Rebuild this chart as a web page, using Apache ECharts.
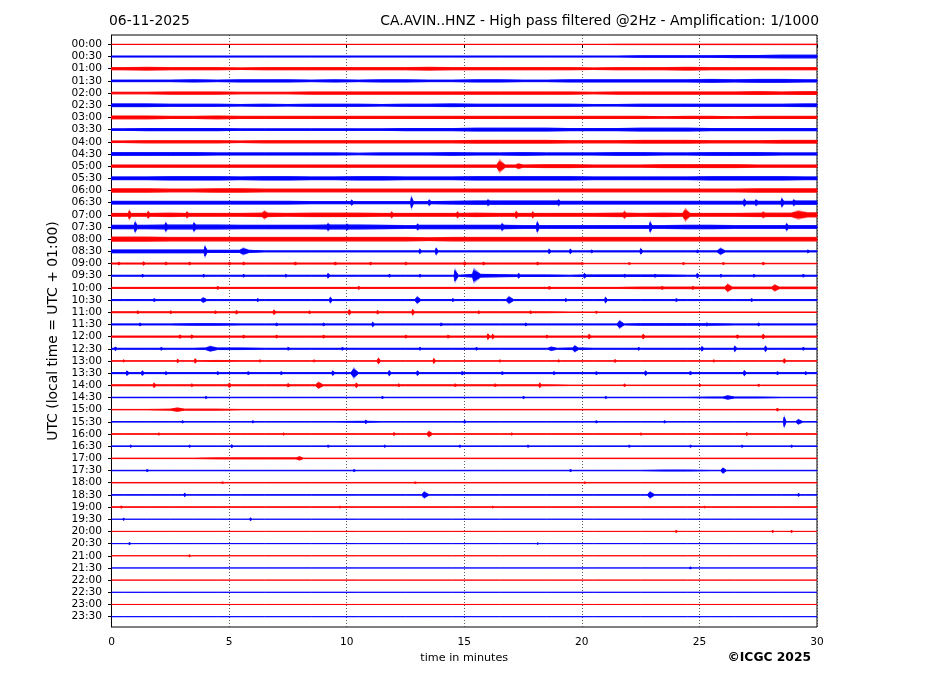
<!DOCTYPE html>
<html><head><meta charset="utf-8">
<script src="https://cdn.jsdelivr.net/npm/echarts@6/dist/echarts.min.js"></script>
<style>html,body{margin:0;padding:0;background:#fff}#c{width:927px;height:696px}</style>
</head><body><div id="c"></div>
<script>
// Row (half-hour) labels of the helicorder
const ROW_LABELS = ["00:00","00:30","01:00","01:30","02:00","02:30","03:00","03:30","04:00","04:30",
  "05:00","05:30","06:00","06:30","07:00","07:30","08:00","08:30","09:00","09:30",
  "10:00","10:30","11:00","11:30","12:00","12:30","13:00","13:30","14:00","14:30",
  "15:00","15:30","16:00","16:30","17:00","17:30","18:00","18:30","19:00","19:30",
  "20:00","20:30","21:00","21:30","22:00","22:30","23:00","23:30"];
const X_TICKS = [0, 5, 10, 15, 20, 25, 30];

// Background envelope (half amplitude) per row, one digit per minute (0..29)
const BASE_AMP = [
  "000000000000000000000111111111",
  "222222222222222222222233334455",
  "454443444444454444443444544444",
  "333434443434433443344444454554",
  "334443334444444444443444444545",
  "554443434443445444443344444445",
  "554454444444444444444443443444",
  "344443333333444555544455544444",
  "344443444444444555544455544455",
  "555544444434445445444554455544",
  "444444444444444444554445555444",
  "556665665566555666665555566665",
  "665566555555555555555555555666",
  "555555554444445666655555555556",
  "556555656665555655555656555667",
  "667776666776566665555555665555",
  "776666666666656666666666666666",
  "555544222222222222222222222222",
  "222222222222222222221111111111",
  "222222222222222543323333222222",
  "222222222222222222222233333333",
  "222222222222222222222222222222",
  "222222222222222222211111111111",
  "222332222222222222222233332222",
  "222222222222222222222222222222",
  "222233222222222222232222222222",
  "111121111111111111111111111111",
  "222222222222222222222222222222",
  "222222222222222222211111111111",
  "111111111111111111111111122211",
  "112221111111111111111111111111",
  "111111111121111111111111111111",
  "111111111111111111111111111111",
  "111111111111111111111111111111",
  "111122221111111111111111111111",
  "111111111111111111111112211111",
  "111111111111111111111111111111",
  "111111111111111111111111111111",
  "111111111111111111111111111111",
  "000000000000000000000000000000",
  "000000000000000000000000000000",
  "000000000000000000000000000000",
  "000000000000000000000000000000",
  "000000000000000000000000000000",
  "000000000000000000000000000000",
  "000000000000000000000000000000",
  "000000000000000000000000000000",
  "000000000000000000000000000000"
];

// Transient events: [row, minute, peak half amplitude, rise (min), decay (min)]
const SPIKES = [
  [10,16.5,18,0.12,0.25],[10,17.3,8,0.12,0.2],
  [13,10.2,9],[13,12.75,20],[13,13.5,10],[13,16.0,10],[13,19.0,10],[13,26.9,12],[13,27.4,10],[13,28.5,15],[13,29.0,10],
  [14,0.75,15],[14,1.55,12],[14,3.2,10],[14,6.5,12,0.1,0.15],[14,11.9,10],[14,14.7,10],[14,17.2,12],[14,17.9,10],[14,21.8,12],[14,24.4,18,0.12,0.2],[14,27.7,10],[14,29.2,12,0.3,0.4],
  [15,1.0,18],[15,2.3,15],[15,3.5,15],[15,9.2,12],[15,10.0,10],[15,13.0,10],[15,16.6,12],[15,18.1,18],[15,22.9,18],[15,28.7,12],
  [17,3.97,18,0.03,0.1],[17,5.6,10,0.15,0.25],[17,13.1,8],[17,13.8,12],[17,18.6,8],[17,19.5,8],[17,20.4,5],[17,22.5,10],[17,24.9,5],[17,25.9,10,0.15,0.2],[17,29.6,5],
  [18,0.3,5],[18,1.35,6],[18,2.3,5],[18,3.3,5],[18,5.0,5],[18,5.6,5],[18,7.8,5],[18,9.5,5],[18,11.0,5],[18,12.5,5],[18,15.0,6],[18,15.8,5],[18,18.1,5],[18,20.0,4],[18,22.0,4],[18,24.3,4],[18,26.0,4],[18,27.7,5],
  [19,1.3,5],[19,3.9,5],[19,5.6,5],[19,7.4,5],[19,9.2,8],[19,11.8,5],[19,13.1,5],[19,14.6,20,0.03,0.15],[19,15.4,20,0.05,0.3],[19,17.3,8],[19,20.1,8],[19,21.8,5],[19,23.1,5],[19,24.9,8],[19,25.9,5],[19,27.3,5],[19,29.4,5],
  [20,4.5,5],[20,10.5,5],[20,18.6,5],[20,23.4,5],[20,24.7,5],[20,26.2,12,0.12,0.2],[20,28.2,10,0.12,0.2],
  [21,1.8,5],[21,3.9,8,0.1,0.15],[21,6.2,5],[21,9.3,10],[21,13.0,11,0.1,0.15],[21,14.5,5],[21,16.9,11,0.12,0.2],[21,19.3,5],[21,21.0,10],[21,24.0,5],[21,27.2,5],
  [22,1.1,5],[22,2.5,5],[22,4.4,5],[22,5.3,6],[22,6.9,8],[22,8.4,5],[22,10.1,9],[22,11.3,6],[22,12.8,10],[22,15.6,5],[22,17.8,5],[22,20.6,4],
  [23,1.2,5],[23,7.0,5],[23,9.0,5],[23,11.1,8],[23,14.0,5],[23,17.6,5],[23,21.6,12,0.1,0.2],[23,25.3,5],[23,27.5,5],
  [24,2.9,6],[24,3.4,6],[24,5.6,5],[24,7.0,5],[24,9.0,5],[24,12.5,5],[24,14.3,5],[24,16.0,10],[24,16.2,8],[24,18.5,5],[24,20.3,8],[24,22.6,8],[24,26.6,6],[24,27.7,8],
  [25,0.15,6],[25,2.1,5],[25,4.2,8,0.2,0.3],[25,7.5,5],[25,9.8,5],[25,13.1,5],[25,15.5,5],[25,18.7,6,0.15,0.25],[25,19.7,10,0.1,0.15],[25,22.4,5],[25,25.1,8],[25,26.5,10],[25,27.8,10],[25,29.4,5],
  [26,0.5,4],[26,2.8,6],[26,3.55,8],[26,6.3,4],[26,8.6,4],[26,11.35,10,0.06,0.1],[26,13.7,9],[26,16.5,4],[26,19.0,4],[26,21.4,5],[26,25.6,4],[26,28.6,8],
  [27,0.65,8],[27,1.3,8],[27,2.3,5],[27,4.5,5],[27,5.8,5],[27,7.2,5],[27,9.4,8],[27,10.3,15,0.12,0.2],[27,11.8,9],[27,13.0,8],[27,14.9,6],[27,16.6,5],[27,18.8,5],[27,20.6,5],[27,22.7,8],[27,24.6,6],[27,26.9,9],[27,28.3,5],[27,29.5,5],
  [28,1.8,8],[28,3.4,5],[28,5.0,8],[28,7.5,6],[28,8.8,10,0.12,0.2],[28,10.4,8],[28,12.2,5],[28,14.6,5],[28,16.3,5],[28,18.2,8],[28,21.8,5],[28,25.0,4],[28,27.5,4],
  [29,4.0,4],[29,11.5,4],[29,17.5,4],[29,21.0,4],[29,26.2,6,0.2,0.3],
  [30,2.8,6,0.3,0.3],[30,28.3,5],
  [31,3.0,4],[31,6.0,4],[31,10.8,6],[31,15.0,5],[31,20.6,4],[31,23.5,4],[31,28.6,18],[31,29.2,8,0.1,0.2],
  [32,2.0,4],[32,7.3,4],[32,12.0,5],[32,13.5,9,0.1,0.15],[32,17.0,4],[32,22.5,4],[32,27.0,5],
  [33,0.8,4],[33,3.3,4],[33,5.1,5],[33,9.2,4],[33,11.6,4],[33,14.8,4],[33,17.7,4],[33,22.0,4],[33,24.6,4],[33,26.8,4],[33,28.9,4],
  [34,8.0,6,0.15,0.15],
  [35,1.5,4],[35,10.3,4],[35,19.5,4],[35,26.0,9,0.1,0.15],
  [36,4.7,3],[36,12.9,3],[36,20.1,3],
  [37,3.1,6],[37,13.3,10,0.12,0.2],[37,22.9,10,0.12,0.2],[37,29.2,5],
  [38,0.4,4],[38,9.7,3],[38,16.2,3],[38,25.2,3],
  [39,0.5,4],[39,5.9,5],
  [40,24.0,4],[40,28.1,4],[40,28.9,4],
  [41,0.75,4],[41,18.1,3],
  [42,3.3,4],
  [43,24.6,4]
];

const AMP_UNIT = 1 / 30;      // fraction of the row spacing per amplitude unit
const CORE_FRACTION = 0.65;   // solid core of the trace; the rest is drawn as a softer halo
const ROW_COLORS = ['#ff0000', '#0000ff'];
const FONT = 'DejaVu Sans';

function envelope(i) {
  const s = BASE_AMP[i];
  const bg = t => Number(s[Math.max(0, Math.min(29, Math.floor(t)))]);
  const sp = SPIKES.filter(p => p[0] === i);
  const rise = p => (p[3] !== undefined ? p[3] : 0.03);
  const dec = p => (p[4] !== undefined ? p[4] : 0.09);
  const inWin = t => sp.some(p => t > p[1] - rise(p) && t < p[1] + dec(p));
  const pts = [[0, bg(0)], [30, bg(29.9)]];
  for (let k = 0; k < 30; k++) { const t = k + 0.5; if (!inWin(t)) pts.push([t, bg(t)]); }
  sp.forEach(p => {
    const a = Math.max(0, p[1] - rise(p)), b = Math.min(30, p[1] + dec(p));
    pts.push([a, bg(a)], [p[1], p[2]], [b, bg(b)]);
  });
  pts.sort((u, v) => u[0] - v[0]);
  return pts;
}
const ENVELOPES = ROW_LABELS.map((_, i) => envelope(i));

function bandPoints(api, row, frac) {
  const env = ENVELOPES[row];
  const up = env.map(p => api.coord([p[0], row - p[1] * AMP_UNIT * frac]));
  const dn = env.slice().reverse().map(p => api.coord([p[0], row + p[1] * AMP_UNIT * frac]));
  return up.concat(dn);
}

const traceSeries = {
  type: 'custom', name: 'HNZ', coordinateSystem: 'cartesian2d', clip: true, silent: true, animation: false,
  data: ROW_LABELS.map((lab, i) => [0, i]),
  encode: { x: 0, y: 1 },
  renderItem: function (params, api) {
    const row = api.value(1);
    const color = ROW_COLORS[row % 2];
    return {
      type: 'group',
      children: [
        { type: 'polygon', shape: { points: bandPoints(api, row, 1) },
          style: { fill: color, opacity: 0.45 } },
        { type: 'polygon', shape: { points: bandPoints(api, row, CORE_FRACTION) },
          style: { fill: color, stroke: color, lineWidth: 0.9, lineJoin: 'round' } }
      ]
    };
  }
};

const chart = echarts.init(document.getElementById('c'), null, { renderer: 'canvas' });
chart.setOption({
  animation: false,
  backgroundColor: '#fff',
  textStyle: { fontFamily: FONT },
  title: [
    { text: '06-11-2025', left: 109, top: 13, padding: 0,
      textStyle: { fontSize: 13.9, fontWeight: 'normal', color: '#000', fontFamily: FONT, lineHeight: 16 } },
    { text: 'CA.AVIN..HNZ - High pass filtered @2Hz - Amplification: 1/1000', right: 108, top: 13, padding: 0,
      textStyle: { fontSize: 13.9, fontWeight: 'normal', color: '#000', fontFamily: FONT, lineHeight: 16 } },
    { text: '©ICGC 2025', right: 116, top: 651, padding: 0,
      textStyle: { fontSize: 12.3, fontWeight: 'bold', color: '#000', fontFamily: FONT, lineHeight: 14 } }
  ],
  grid: { left: 111.5, right: 110, top: 35, bottom: 69, show: true, borderColor: '#000', borderWidth: 1,
          backgroundColor: 'transparent', containLabel: false, outerBoundsMode: 'none' },
  xAxis: {
    type: 'value', min: X_TICKS[0], max: X_TICKS[X_TICKS.length - 1], interval: 5,
    axisLine: { show: true, lineStyle: { color: '#000', width: 1 } },
    axisTick: { show: true, length: 3.5, lineStyle: { color: '#000' } },
    axisLabel: { color: '#000', fontSize: 10.6, margin: 10, fontFamily: FONT },
    splitLine: { show: true, lineStyle: { color: '#333', type: [1, 2], width: 0.8 } },
    name: 'time in minutes', nameLocation: 'middle', nameGap: 26,
    nameTextStyle: { color: '#000', fontSize: 11.2, fontFamily: FONT }
  },
  yAxis: {
    type: 'value', inverse: true, min: -0.77, max: 47.85,
    axisLine: { show: true, lineStyle: { color: '#000', width: 1 } },
    axisTick: { show: true, length: 3.5, lineStyle: { color: '#000' }, customValues: ROW_LABELS.map((_, i) => i) },
    axisLabel: { color: '#000', fontSize: 10.6, margin: 9.5, fontFamily: FONT,
      customValues: ROW_LABELS.map((_, i) => i), formatter: v => ROW_LABELS[Math.round(v)] },
    splitLine: { show: false },
    name: 'UTC (local time = UTC + 01:00)', nameLocation: 'middle', nameGap: 43, nameRotate: 90,
    nameTextStyle: { color: '#000', fontSize: 13.9, fontFamily: FONT }
  },
  series: [traceSeries]
});
</script></body></html>
